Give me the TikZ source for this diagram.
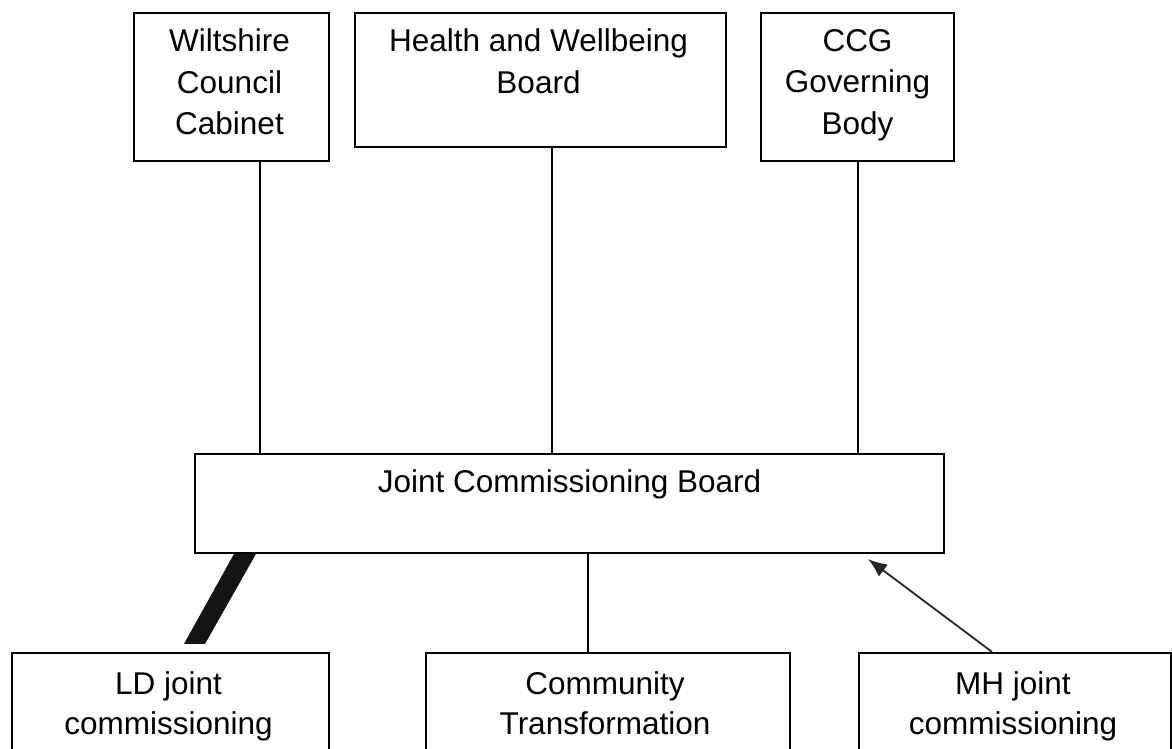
\documentclass[tikz,border=0pt]{standalone}
\usepackage{fontspec}
\setmainfont{Liberation Sans}
\usetikzlibrary{calc,arrows.meta}
\tikzset{
  box/.style={draw, line width=2.2pt, rectangle, inner sep=0pt},
  lbl/.style={inner sep=0pt, anchor=north, align=center, text=black,
    font=\fontsize{31.5}{41.5}\selectfont},
  conn/.style={line width=2pt},
  arrowconn/.style={line width=1.8pt, draw=black!85, -{Latex[length=19pt,width=15pt]}}
}
\begin{document}
\begin{tikzpicture}[x=1pt,y=1pt]
\clip (0,0) rectangle (1172,-749);
\fill[white] (0,0) rectangle (1172,-749);
% top boxes
\node[box, minimum width=195, minimum height=148] (wcc) at (231.5,-87) {};
\node[box, minimum width=371, minimum height=134] (hwb) at (540.5,-80) {};
\node[box, minimum width=193, minimum height=148] (ccg) at (857.5,-87) {};
% middle
\node[box, minimum width=749, minimum height=99] (jcb) at (569.5,-503.5) {};
% bottom boxes
\node[box, minimum width=317, minimum height=147] (ld) at (170.5,-726.5) {};
\node[box, minimum width=364, minimum height=147] (ct) at (608,-726.5) {};
\node[box, minimum width=312, minimum height=147] (mh) at (1015,-726.5) {};
% labels
\node[lbl] (wcct) at ($(wcc.north)+(-2,-17)$) {Wiltshire\\Council\\Cabinet};
\node[lbl] (hwbt) at ($(hwb.north)+(-2,-17)$) {Health and Wellbeing\\Board};
\node[lbl] (ccgt) at ($(ccg.north)+(0,-17)$) {CCG\\Governing\\Body};
\node[lbl] (jcbt) at ($(jcb.north)+(0,-17)$) {Joint Commissioning Board};
\node[lbl, font=\fontsize{31.5}{40}\selectfont] (ldt) at ($(ld.north)+(-2,-19.5)$) {LD joint\\commissioning};
\node[lbl, font=\fontsize{31.5}{40}\selectfont] (ctt) at ($(ct.north)+(-3,-19.5)$) {Community\\Transformation};
\node[lbl, font=\fontsize{31.5}{40}\selectfont] (mht) at ($(mh.north)+(-2,-19.5)$) {MH joint\\commissioning};
% connector end points
\coordinate (wccA) at ($(wcc.south)+(28.5,0)$);
\coordinate (hwbA) at ($(hwb.south)+(11.5,0)$);
\coordinate (ctA) at ($(ct.north)+(-20,0)$);
\coordinate (mhA) at ($(mh.north)+(-23,0)$);
\coordinate (jcbA) at ($(jcb.south east)+(-77,-5)$);
% connectors
\draw[conn] (wccA) -- (wccA |- jcb.north);
\draw[conn] (hwbA) -- (hwbA |- jcb.north);
\draw[conn] (ccg.south) -- (ccg.south |- jcb.north);
\draw[conn] (ctA) -- (ctA |- jcb.south);
\fill[black!92] ($(jcb.south west)+(40,0)$) -- ($(jcb.south west)+(62,0)$)
  -- ($(ld.north)+(34.5,8)$) -- ($(ld.north)+(13.5,8)$) -- cycle;
\draw[arrowconn] (mhA) -- (jcbA);
\end{tikzpicture}
\end{document}
